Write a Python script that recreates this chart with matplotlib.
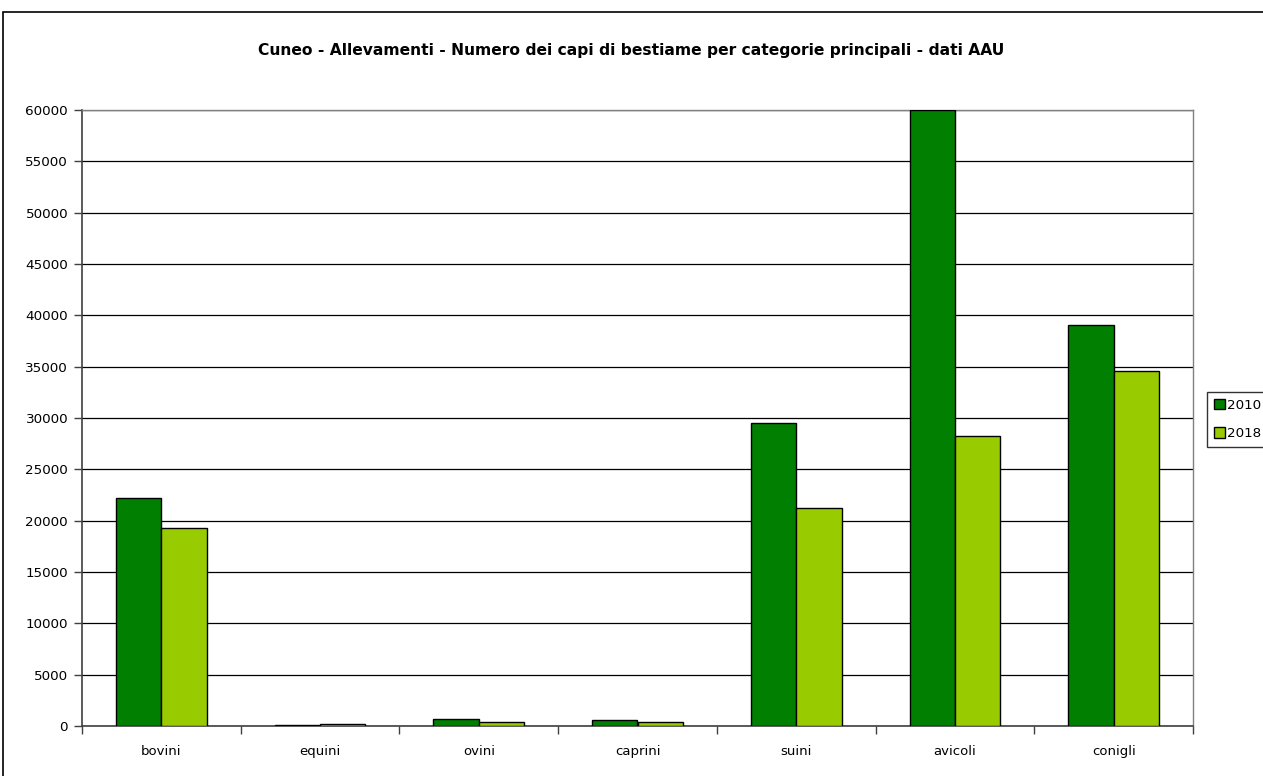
import numpy as np
import matplotlib
matplotlib.use('Agg')
import matplotlib.pyplot as plt
from matplotlib.patches import Rectangle

# ---------- data ----------
categorie = ['bovini', 'equini', 'ovini', 'caprini', 'suini', 'avicoli', 'conigli']
capi_2010 = [22200, 80, 700, 600, 29500, 60000, 39100]
capi_2018 = [19300, 150, 350, 400, 21200, 28200, 34600]
anni = ['2010', '2018']
titolo = 'Cuneo - Allevamenti - Numero dei capi di bestiame per categorie principali - dati AAU'

plt.rcParams['font.family'] = ['DejaVu Sans']

W, H = 1263, 776
fig = plt.figure(figsize=(W / 100, H / 100), dpi=100)
ax = fig.add_axes([82 / W, 1 - 726 / H, (1193 - 82) / W, (726 - 110) / H])

# outer chart frame (cut off on the right and bottom like the original)
fig.patches.append(Rectangle((3 / W, -0.1), 1.2, 1.1 - 12 / H,
                             transform=fig.transFigure, fill=False,
                             edgecolor='black', linewidth=1.2))

x = np.arange(len(categorie))
w = 1 / 3.5  # excel gap width 150%
ax.bar(x - w / 2, capi_2010, w, color='#007F00', edgecolor='black',
       linewidth=1.0, label=anni[0], zorder=3)
ax.bar(x + w / 2, capi_2018, w, color='#99CC00', edgecolor='black',
       linewidth=1.0, label=anni[1], zorder=3)

ax.set_xlim(-0.5, len(categorie) - 0.5)
ax.set_ylim(0, 60000)
ax.set_yticks(np.arange(0, 60001, 5000))
ax.yaxis.grid(True, color='black', linewidth=0.9, zorder=0)
ax.set_axisbelow(True)

# category labels centred, tick marks between categories
ax.set_xticks(x)
ax.set_xticklabels(categorie, fontsize=9.5)
ax.tick_params(axis='x', length=0, pad=14)
ax.set_xticks(np.arange(-0.5, len(categorie), 1), minor=True)
ax.tick_params(axis='x', which='minor', length=6, width=1, color='#404040')
ax.tick_params(axis='y', labelsize=9.7, length=6, width=1, color='#404040', pad=4)

for s in ['left', 'bottom']:
    ax.spines[s].set_color('#404040')
    ax.spines[s].set_linewidth(1.2)
for s in ['top', 'right']:
    ax.spines[s].set_color('#808080')
    ax.spines[s].set_linewidth(1.0)

fig.text(0.5, 1 - 50 / H, titolo, ha='center', va='center', fontsize=11.2,
         fontweight='bold')

leg = ax.legend(loc='upper left', bbox_to_anchor=(1207 / W, 1 - 392 / H),
                bbox_transform=fig.transFigure, borderaxespad=0,
                fancybox=False, frameon=True, fontsize=9.7,
                handlelength=0.8, handleheight=0.8, handletextpad=0.2,
                borderpad=0.5, labelspacing=1.15)
leg.get_frame().set_edgecolor('black')
leg.get_frame().set_linewidth(1.0)

fig.savefig('out.png', dpi=100)
